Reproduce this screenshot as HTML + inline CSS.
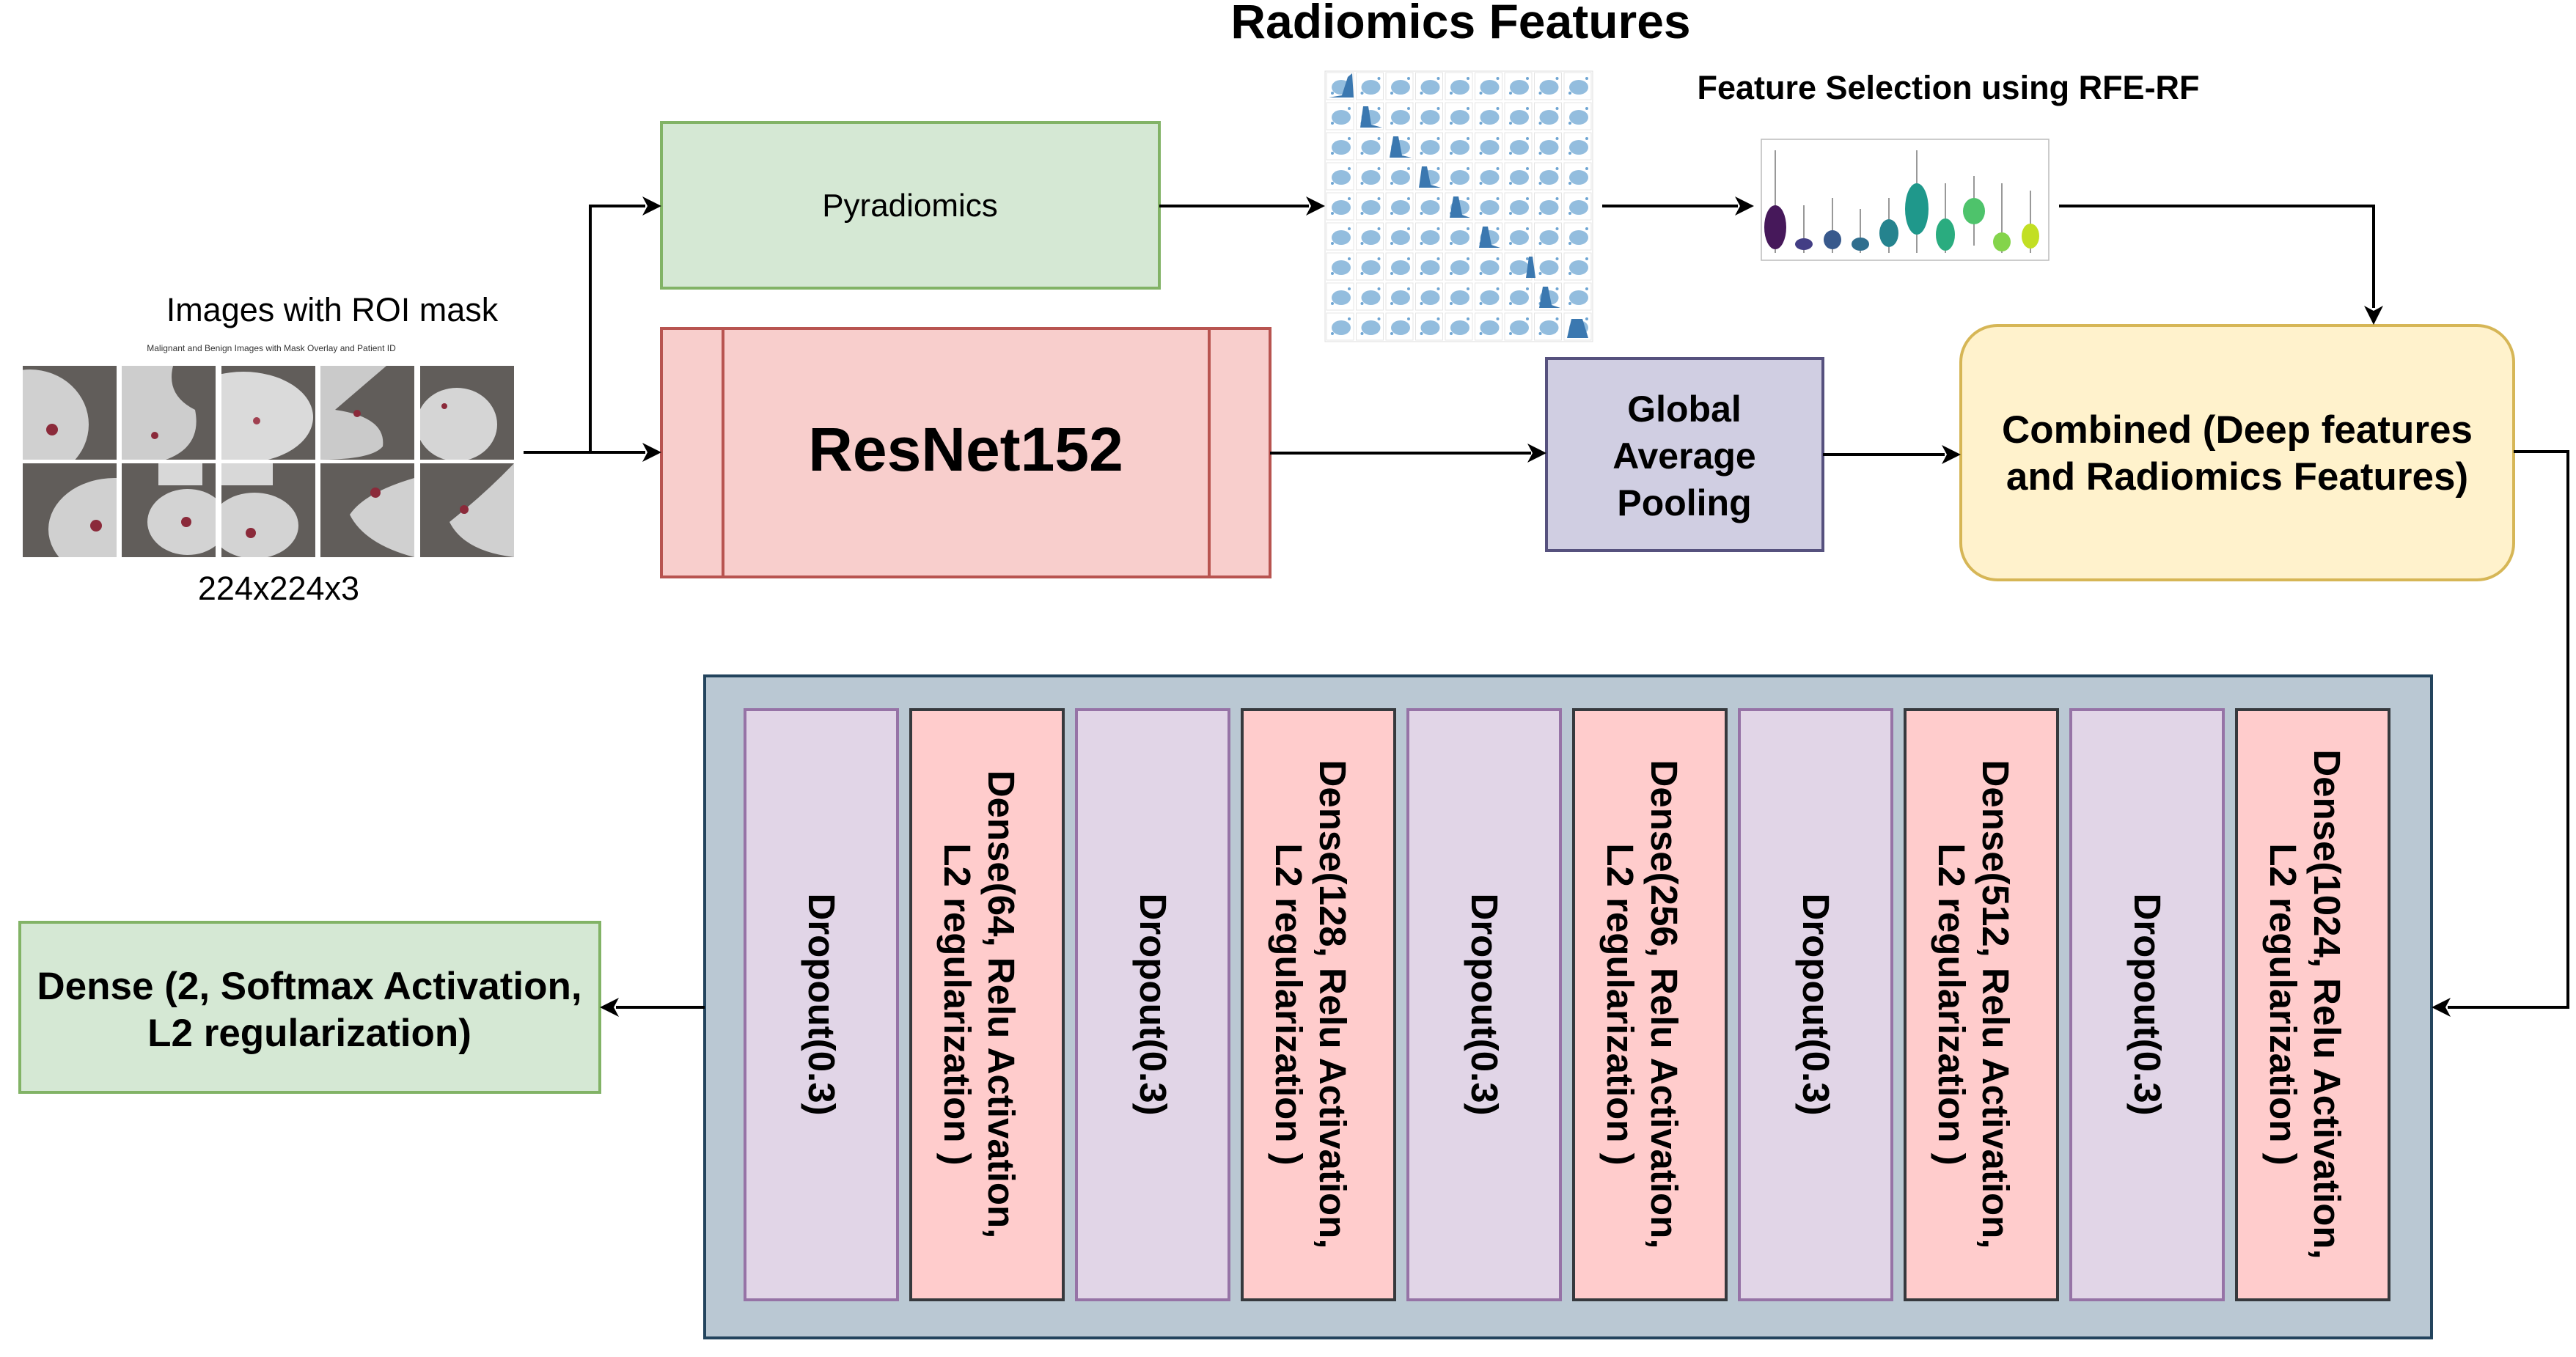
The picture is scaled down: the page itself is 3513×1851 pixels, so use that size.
<!DOCTYPE html>
<html><head><meta charset="utf-8"><style>
html,body{margin:0;padding:0;background:#fff;}
svg{display:block;}
text{font-family:"Liberation Sans",Arial,sans-serif;}
</style></head><body>
<svg width="3513" height="1851" viewBox="0 0 3513 1851" xmlns="http://www.w3.org/2000/svg">
<defs>
<pattern id="sc" x="1807" y="97" width="40.5" height="41" patternUnits="userSpaceOnUse">
<rect x="2" y="2" width="37" height="37" fill="#fff" stroke="#e4e4e4" stroke-width="1"/>
<ellipse cx="22" cy="22" rx="13" ry="10" fill="#6fa6d3" opacity="0.75"/>
<circle cx="10" cy="30" r="2" fill="#6fa6d3"/><circle cx="33" cy="10" r="2" fill="#6fa6d3"/>
</pattern>
</defs>
<rect width="3513" height="1851" fill="#fff"/>

<text x="1992" y="52" font-size="66" font-weight="bold" text-anchor="middle">Radiomics Features</text>
<text x="2657" y="135" font-size="45" font-weight="bold" text-anchor="middle">Feature Selection using RFE-RF</text>
<text x="453" y="438" font-size="45" text-anchor="middle">Images with ROI mask</text>
<text x="380" y="818" font-size="45" text-anchor="middle">224x224x3</text>

<!-- mammogram grid -->
<text x="370" y="479" font-size="12" fill="#333" text-anchor="middle">Malignant and Benign Images with Mask Overlay and Patient ID</text>
<svg x="31" y="499" width="128" height="128"><rect width="128" height="128" fill="#615d5a"/><ellipse cx="10" cy="80" rx="80" ry="75" fill="#d0d0d0"/><circle cx="40" cy="87" r="8" fill="#8b2a3a"/></svg>
<svg x="166" y="499" width="128" height="128"><rect width="128" height="128" fill="#615d5a"/><path d="M0 0 H70 Q60 40 100 60 Q110 110 60 128 H0Z" fill="#cdcdcd"/><circle cx="45" cy="95" r="5" fill="#8b2a3a"/></svg>
<svg x="302" y="499" width="128" height="128"><rect width="128" height="128" fill="#615d5a"/><ellipse cx="30" cy="70" rx="95" ry="62" fill="#dadada"/><circle cx="48" cy="75" r="5" fill="#a04050"/></svg>
<svg x="437" y="499" width="128" height="128"><rect width="128" height="128" fill="#615d5a"/><path d="M0 0 H90 L20 60 Q90 70 85 110 Q70 128 0 128Z" fill="#cacaca"/><circle cx="50" cy="65" r="5" fill="#8b2a3a"/></svg>
<svg x="573" y="499" width="128" height="128"><rect width="128" height="128" fill="#615d5a"/><ellipse cx="50" cy="80" rx="55" ry="50" fill="#d5d5d5"/><circle cx="33" cy="55" r="4" fill="#8b2a3a"/></svg>
<svg x="31" y="632" width="128" height="128"><rect width="128" height="128" fill="#615d5a"/><ellipse cx="125" cy="90" rx="90" ry="70" fill="#d0d0d0"/><circle cx="100" cy="85" r="8" fill="#8b2a3a"/></svg>
<svg x="166" y="632" width="128" height="128"><rect width="128" height="128" fill="#615d5a"/><rect x="50" y="0" width="60" height="30" fill="#d8d8d8"/><ellipse cx="90" cy="80" rx="55" ry="45" fill="#d3d3d3"/><circle cx="88" cy="80" r="7" fill="#8b2a3a"/></svg>
<svg x="302" y="632" width="128" height="128"><rect width="128" height="128" fill="#615d5a"/><rect x="0" y="0" width="70" height="30" fill="#d8d8d8"/><ellipse cx="45" cy="85" rx="60" ry="45" fill="#d3d3d3"/><circle cx="40" cy="95" r="7" fill="#8b2a3a"/></svg>
<svg x="437" y="632" width="128" height="128"><rect width="128" height="128" fill="#615d5a"/><path d="M128 20 Q60 40 40 70 Q60 110 128 128Z" fill="#d0d0d0"/><circle cx="75" cy="40" r="7" fill="#8b2a3a"/></svg>
<svg x="573" y="632" width="128" height="128"><rect width="128" height="128" fill="#615d5a"/><path d="M128 0 Q90 40 40 80 Q60 120 128 128Z" fill="#d0d0d0"/><circle cx="60" cy="63" r="6" fill="#8b2a3a"/></svg>

<!-- scatter matrix -->
<rect x="1807" y="97" width="365" height="369" fill="url(#sc)"/>
<g fill="#3b78b0">
<path d="M1812 133 L1830 130 L1838 105 L1844 100 L1846 133Z"/>
<path d="M1855 174 L1859 145 L1866 145 L1870 170 L1885 174Z"/>
<path d="M1895 215 L1900 186 L1907 186 L1912 212 L1925 215Z"/>
<path d="M1935 256 L1939 227 L1946 227 L1951 252 L1965 256Z"/>
<path d="M1977 297 L1982 268 L1989 268 L1994 293 L2005 297Z"/>
<path d="M2017 338 L2022 309 L2029 309 L2034 334 L2046 338Z"/>
<path d="M2081 379 L2085 350 L2090 350 L2094 379Z"/>
<path d="M2099 420 L2104 391 L2111 391 L2116 416 L2128 420Z"/>
<path d="M2137 461 L2143 435 L2158 435 L2166 461Z"/>
</g>
<rect x="1807" y="97" width="365" height="369" fill="none" stroke="#ddd" stroke-width="1"/>

<!-- violin plot -->
<rect x="2402" y="190" width="392" height="165" fill="#fff" stroke="#bbb" stroke-width="1.5"/>
<g stroke="#333" stroke-width="1">
<line x1="2421" y1="205" x2="2421" y2="345"/><line x1="2460" y1="280" x2="2460" y2="345"/><line x1="2499" y1="270" x2="2499" y2="345"/><line x1="2537" y1="285" x2="2537" y2="345"/><line x1="2576" y1="270" x2="2576" y2="345"/><line x1="2614" y1="205" x2="2614" y2="345"/><line x1="2653" y1="250" x2="2653" y2="345"/><line x1="2692" y1="240" x2="2692" y2="335"/><line x1="2730" y1="250" x2="2730" y2="345"/><line x1="2769" y1="260" x2="2769" y2="345"/>
</g>
<g>
<ellipse cx="2421" cy="310" rx="15" ry="30" fill="#46185a"/>
<ellipse cx="2460" cy="333" rx="12" ry="8" fill="#433e85"/>
<ellipse cx="2499" cy="327" rx="12" ry="13" fill="#38598c"/>
<ellipse cx="2537" cy="333" rx="12" ry="9" fill="#2f6e8e"/>
<ellipse cx="2576" cy="318" rx="13" ry="19" fill="#25838e"/>
<ellipse cx="2614" cy="285" rx="16" ry="35" fill="#1f988b"/>
<ellipse cx="2653" cy="320" rx="13" ry="22" fill="#2aac7f"/>
<ellipse cx="2692" cy="288" rx="15" ry="18" fill="#4ec36b"/>
<ellipse cx="2730" cy="330" rx="12" ry="13" fill="#84d44b"/>
<ellipse cx="2769" cy="322" rx="12" ry="17" fill="#c2df23"/>
</g>

<!-- boxes -->
<rect x="902" y="167" width="679" height="226" fill="#d5e8d4" stroke="#82b366" stroke-width="4"/>
<text x="1241" y="295" font-size="44" text-anchor="middle">Pyradiomics</text>

<rect x="902" y="448" width="830" height="339" fill="#f8cecc" stroke="#b85450" stroke-width="4"/>
<line x1="986" y1="448" x2="986" y2="787" stroke="#b85450" stroke-width="4"/>
<line x1="1649" y1="448" x2="1649" y2="787" stroke="#b85450" stroke-width="4"/>
<text x="1317" y="642" font-size="84" font-weight="bold" text-anchor="middle">ResNet152</text>

<rect x="2109" y="489" width="377" height="262" fill="#d0cee2" stroke="#56517e" stroke-width="4"/>
<text font-size="50" font-weight="bold" text-anchor="middle"><tspan x="2297" y="575">Global</tspan><tspan x="2297" y="639">Average</tspan><tspan x="2297" y="703">Pooling</tspan></text>

<rect x="2674" y="444" width="754" height="347" rx="50" fill="#fff2cc" stroke="#d6b656" stroke-width="4"/>
<text font-size="53" font-weight="bold" text-anchor="middle"><tspan x="3051" y="604">Combined (Deep features</tspan><tspan x="3051" y="668">and Radiomics Features)</tspan></text>

<rect x="961" y="922" width="2355" height="903" fill="#bac8d3" stroke="#23445d" stroke-width="4"/>

<rect x="27" y="1258" width="791" height="232" fill="#d5e8d4" stroke="#82b366" stroke-width="4"/>
<text font-size="53" font-weight="bold" text-anchor="middle"><tspan x="422" y="1363">Dense (2, Softmax Activation,</tspan><tspan x="422" y="1427">L2 regularization)</tspan></text>

<!-- columns -->
<g font-size="51" font-weight="bold" text-anchor="middle">
<rect x="1016" y="968" width="208" height="805" fill="#e1d5e7" stroke="#9673a6" stroke-width="4"/>
<text transform="translate(1120,1370) rotate(90)" y="17">Dropout(0.3)</text>
<rect x="1242" y="968" width="208" height="805" fill="#ffcccc" stroke="#36393d" stroke-width="4"/>
<text transform="translate(1346,1370) rotate(90)"><tspan x="0" y="-2">Dense(64, Relu Activation,</tspan><tspan x="0" y="58">L2 regularization )</tspan></text>

<rect x="1468" y="968" width="208" height="805" fill="#e1d5e7" stroke="#9673a6" stroke-width="4"/>
<text transform="translate(1572,1370) rotate(90)" y="17">Dropout(0.3)</text>
<rect x="1694" y="968" width="208" height="805" fill="#ffcccc" stroke="#36393d" stroke-width="4"/>
<text transform="translate(1798,1370) rotate(90)"><tspan x="0" y="-2">Dense(128, Relu Activation,</tspan><tspan x="0" y="58">L2 regularization )</tspan></text>

<rect x="1920" y="968" width="208" height="805" fill="#e1d5e7" stroke="#9673a6" stroke-width="4"/>
<text transform="translate(2024,1370) rotate(90)" y="17">Dropout(0.3)</text>
<rect x="2146" y="968" width="208" height="805" fill="#ffcccc" stroke="#36393d" stroke-width="4"/>
<text transform="translate(2250,1370) rotate(90)"><tspan x="0" y="-2">Dense(256, Relu Activation,</tspan><tspan x="0" y="58">L2 regularization )</tspan></text>

<rect x="2372" y="968" width="208" height="805" fill="#e1d5e7" stroke="#9673a6" stroke-width="4"/>
<text transform="translate(2476,1370) rotate(90)" y="17">Dropout(0.3)</text>
<rect x="2598" y="968" width="208" height="805" fill="#ffcccc" stroke="#36393d" stroke-width="4"/>
<text transform="translate(2702,1370) rotate(90)"><tspan x="0" y="-2">Dense(512, Relu Activation,</tspan><tspan x="0" y="58">L2 regularization )</tspan></text>

<rect x="2824" y="968" width="208" height="805" fill="#e1d5e7" stroke="#9673a6" stroke-width="4"/>
<text transform="translate(2928,1370) rotate(90)" y="17">Dropout(0.3)</text>
<rect x="3050" y="968" width="208" height="805" fill="#ffcccc" stroke="#36393d" stroke-width="4"/>
<text transform="translate(3154,1370) rotate(90)"><tspan x="0" y="-2">Dense(1024, Relu Activation,</tspan><tspan x="0" y="58">L2 regularization )</tspan></text>
</g>

<!-- connectors -->
<g stroke="#000" stroke-width="4" fill="none">
<path d="M714 617 H805 V281 H880"/>
<path d="M805 617 H880"/>
<path d="M1581 281 H1785"/>
<path d="M2185 281 H2370"/>
<path d="M2808 281 H3237 V420"/>
<path d="M1732 618 H2088"/>
<path d="M2486 620 H2652"/>
<path d="M3428 616 H3502 V1374 H3338"/>
<path d="M961 1374 H840"/>
</g>
<g fill="#000">
<polygon points="902,281 876,268 883,281 876,294"/>
<polygon points="902,617 876,604 883,617 876,630"/>
<polygon points="1807,281 1781,268 1788,281 1781,294"/>
<polygon points="2392,281 2366,268 2373,281 2366,294"/>
<polygon points="3237,443 3224,417 3237,424 3250,417"/>
<polygon points="2109,618 2083,605 2090,618 2083,631"/>
<polygon points="2674,620 2648,607 2655,620 2648,633"/>
<polygon points="3316,1374 3342,1361 3335,1374 3342,1387"/>
<polygon points="818,1374 844,1361 837,1374 844,1387"/>
</g>
</svg>
</body></html>
